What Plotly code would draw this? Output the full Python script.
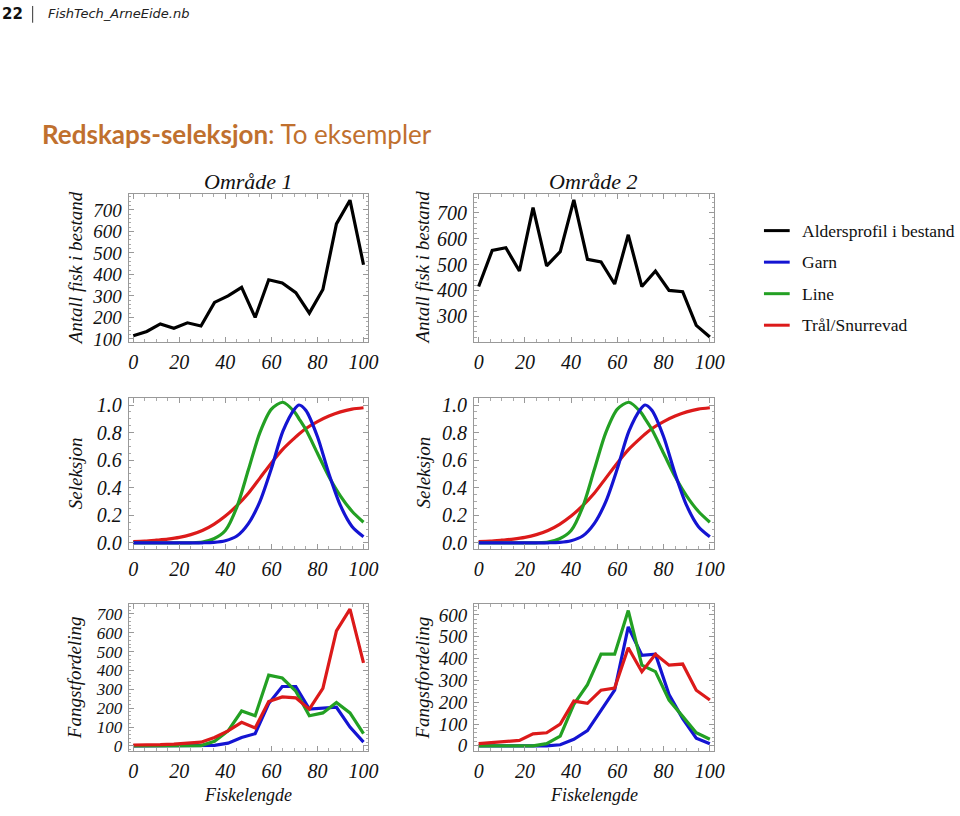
import plotly.graph_objects as go

# ---------------- data ----------------
lengths = [0, 5.88, 11.76, 17.65, 23.53, 29.41, 35.29, 41.18, 47.06, 52.94,
           58.82, 64.71, 70.59, 76.47, 82.35, 88.24, 94.12, 100]

pop_omr1 = [115, 135, 170, 150, 175, 160, 270, 300, 340, 200,
            375, 360, 315, 220, 330, 635, 745, 445]
pop_omr2 = [415, 555, 565, 475, 720, 495, 550, 750, 520, 510,
            425, 615, 415, 475, 400, 395, 265, 220]

sel_x = [0, 5, 10, 15, 20, 25, 30, 35, 40, 45, 50, 55, 60, 65, 70, 72, 75, 80, 85, 90, 95, 100]
sel_garn = [0, 0, 0, 0, 0, 0, 0.001, 0.004, 0.016, 0.05, 0.14, 0.30, 0.54, 0.81, 0.97, 1.0,
            0.96, 0.77, 0.50, 0.27, 0.12, 0.045]
sel_line = [0, 0, 0, 0, 0, 0.001, 0.006, 0.03, 0.09, 0.26, 0.53, 0.80, 0.97, 1.02, 0.95, 0.90,
            0.82, 0.65, 0.48, 0.34, 0.23, 0.15]
sel_tral = [0.01, 0.013, 0.02, 0.028, 0.04, 0.06, 0.09, 0.135, 0.195, 0.27, 0.36, 0.47, 0.58,
            0.68, 0.76, 0.79, 0.83, 0.88, 0.92, 0.95, 0.97, 0.98]

catch1_garn = [0, 0, 0, 0, 0, 0, 3, 15, 45, 65, 225, 315, 315, 195, 200, 205, 100, 20]
catch1_line = [0, 0, 0, 0, 0, 2, 25, 80, 185, 160, 375, 360, 290, 160, 175, 230, 175, 65]
catch1_tral = [5, 5, 7, 10, 15, 20, 45, 80, 125, 95, 235, 260, 255, 195, 305, 610, 725, 440]

catch2_garn = [0, 0, 0, 0, 0, 0, 5, 30, 70, 165, 255, 545, 415, 420, 235, 125, 35, 10]
catch2_line = [0, 0, 0, 0, 0, 10, 45, 190, 280, 420, 420, 620, 370, 340, 210, 135, 60, 30]
catch2_tral = [10, 15, 20, 25, 55, 60, 100, 205, 195, 255, 265, 450, 340, 420, 370, 375, 255, 210]

x_ticks = [0, 20, 40, 60, 80, 100]
legend_labels = ["Aldersprofil i bestand", "Garn", "Line", "Trål/Snurrevad"]

# ---------------- style ----------------
BLACK = "#000000"
BLUE = "#1414D2"
GREEN = "#23A023"
RED = "#DC1A1A"
SERIF = "Liberation Serif, Times New Roman, serif"
W, H = 960, 816
LW = 3.2

fig = go.Figure()


def dom_x(a, b):
    return [a / W, b / W]


def dom_y(top, bottom):
    return [1 - bottom / H, 1 - top / H]


panels = {
    # name: (x px range, y px range, y range, y ticks, y tick font size)
    1: ((130, 372), (193, 343), [86, 773], [100, 200, 300, 400, 500, 600, 700], 19),
    2: ((479, 722), (193, 343), [201, 772], [300, 400, 500, 600, 700], 20),
    3: ((130, 372), (400, 553), [-0.043, 1.05], [0, 0.2, 0.4, 0.6, 0.8, 1.0], 20),
    4: ((479, 722), (400, 553), [-0.043, 1.05], [0, 0.2, 0.4, 0.6, 0.8, 1.0], 20),
    5: ((130, 372), (609, 758), [-26, 752], [0, 100, 200, 300, 400, 500, 600, 700], 17),
    6: ((479, 722), (609, 758), [-23, 650], [0, 100, 200, 300, 400, 500, 600], 19),
}

for i, (px, py, yr, yt, yfs) in panels.items():
    suffix = "" if i == 1 else str(i)
    ytext = [f"{v:.1f}" for v in yt] if i in (3, 4) else [str(v) for v in yt]
    fig.layout["xaxis" + suffix] = dict(
        domain=dom_x(*px), range=[-2, 102], anchor="y" + suffix,
        tickvals=x_ticks, ticktext=[str(v) for v in x_ticks],
        ticks="inside", ticklen=5, tickcolor="#999", mirror="ticks",
        showline=True, linecolor="#999", linewidth=1, showgrid=False, zeroline=False,
        tickfont=dict(family=SERIF, size=20, color="#111", style="italic"),
        ticklabelstandoff=2,
        minor=dict(ticks="inside", ticklen=2.5, dtick=5, tickcolor="#aaa", showgrid=False),
    )
    fig.layout["yaxis" + suffix] = dict(
        domain=dom_y(*py), range=yr, anchor="x" + suffix,
        tickvals=yt, ticktext=ytext,
        ticks="inside", ticklen=5, tickcolor="#999", mirror="ticks",
        showline=True, linecolor="#999", linewidth=1, showgrid=False, zeroline=False,
        tickfont=dict(family=SERIF, size=yfs, color="#111", style="italic"),
        ticklabelstandoff=2,
        minor=dict(ticks="inside", ticklen=2.5, tickcolor="#aaa", showgrid=False,
                   dtick=(0.05 if i in (3, 4) else 20)),
    )


def add(x, y, color, n, spline=False):
    s = "" if n == 1 else str(n)
    fig.add_trace(go.Scatter(
        x=x, y=y, mode="lines", xaxis="x" + s, yaxis="y" + s,
        line=dict(color=color, width=LW, shape="spline" if spline else "linear",
                  smoothing=0.8),
        showlegend=False, hoverinfo="skip"))


add(lengths, pop_omr1, BLACK, 1)
add(lengths, pop_omr2, BLACK, 2)
for n in (3, 4):
    add(sel_x, sel_tral, RED, n, True)
    add(sel_x, sel_line, GREEN, n, True)
    add(sel_x, sel_garn, BLUE, n, True)
add(lengths, catch1_garn, BLUE, 5)
add(lengths, catch1_line, GREEN, 5)
add(lengths, catch1_tral, RED, 5)
add(lengths, catch2_garn, BLUE, 6)
add(lengths, catch2_line, GREEN, 6)
add(lengths, catch2_tral, RED, 6)

ann = []
shapes = []


def text(x, y, s, size=18, family=SERIF, style="italic", color="#111", angle=0,
         xanchor="center", weight="normal"):
    ann.append(dict(x=x / W, y=1 - y / H, xref="paper", yref="paper", text=s,
                    showarrow=False, xanchor=xanchor, yanchor="middle", textangle=angle,
                    font=dict(family=family, size=size, color=color, style=style,
                              weight=weight)))


# panel titles
text(251, 180, "Område 1", size=22)
text(600, 180, "Område 2", size=22)
# y titles
text(76, 268, "Antall fisk i bestand", size=19, angle=-90)
text(427, 268, "Antall fisk i bestand", size=19, angle=-90)
text(76, 476, "Seleksjon", size=19, angle=-90)
text(427, 476, "Seleksjon", size=19, angle=-90)
text(76, 684, "Fangstfordeling", size=19, angle=-90)
text(427, 684, "Fangstfordeling", size=19, angle=-90)
# x titles
text(251, 803, "Fiskelengde", size=18)
text(600, 803, "Fiskelengde", size=18)

# header
text(0, 10, "<b>22</b>", size=15, family="DejaVu Sans, sans-serif", style="normal",
     color="#111", xanchor="left")
shapes.append(dict(type="line", xref="paper", yref="paper", x0=33 / W, x1=33 / W,
                   y0=1 - 2 / H, y1=1 - 19 / H, line=dict(color="#333", width=1)))
text(46, 10, "FishTech_ArneEide.nb", size=13, family="DejaVu Sans, sans-serif",
     style="italic", color="#222", xanchor="left")

# main title
text(40, 132, "<b>Redskaps-seleksjon</b>: To eksempler", size=26,
     family="Lato, sans-serif", style="normal", color="#C0702E", xanchor="left")

# legend
leg_colors = [BLACK, BLUE, GREEN, RED]
for k, (lab, col) in enumerate(zip(legend_labels, leg_colors)):
    yy = 230 + 32 * k
    shapes.append(dict(type="line", xref="paper", yref="paper",
                       x0=772 / W, x1=798 / W, y0=1 - yy / H, y1=1 - yy / H,
                       line=dict(color=col, width=3)))
    text(808, yy, lab, size=17.5, family=SERIF, style="normal", color="#111",
         xanchor="left")

fig.update_layout(
    width=W, height=H, margin=dict(l=0, r=0, t=0, b=0),
    paper_bgcolor="white", plot_bgcolor="white",
    annotations=ann, shapes=shapes, showlegend=False,
)

fig.write_html("out.html", config={"displayModeBar": False},
               post_script="document.body.style.margin='0';document.body.style.overflow='hidden';")
